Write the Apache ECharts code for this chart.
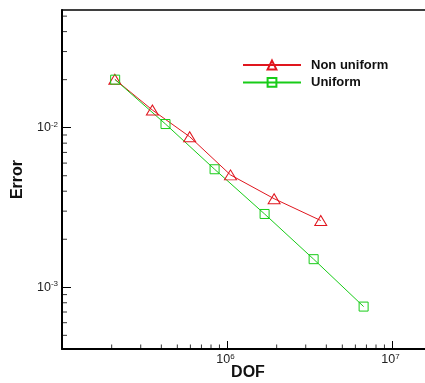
<!DOCTYPE html>
<html>
<head>
<meta charset="utf-8">
<script src="https://cdn.jsdelivr.net/npm/echarts@6/dist/echarts.min.js"></script>
<style>
html,body{margin:0;padding:0;background:#fff;}
#chart{width:425px;height:383px;}
</style>
</head>
<body>
<div id="chart"></div>
<script>
// ---- data ----
const seriesNames = ['Non uniform', 'Uniform'];
const dofNonUniform = [2.09e5, 3.53e5, 5.94e5, 1.05e6, 1.93e6, 3.70e6];
const errNonUniform = [0.0201, 0.0129, 0.00878, 0.00506, 0.00359, 0.00262];
const dofUniform = [2.1e5, 4.24e5, 8.41e5, 1.69e6, 3.35e6, 6.73e6];
const errUniform = [0.0200, 0.01054, 0.00549, 0.00288, 0.00150, 0.000757];

// axis ranges and tick values
const xMin = 1e5, xMax = 1.585e7;
const yMin = 4.105e-4, yMax = 0.05463;
const xMinorTicks = [2e5,3e5,4e5,5e5,6e5,7e5,8e5,9e5,2e6,3e6,4e6,5e6,6e6,7e6,8e6,9e6];
const yMinorTicks = [5e-4,6e-4,7e-4,8e-4,9e-4,2e-3,3e-3,4e-3,5e-3,6e-3,7e-3,8e-3,9e-3,2e-2,3e-2,4e-2,5e-2];

const RED = '#e0161e';
const GREEN = '#18cc18';
const FONT = 'Liberation Sans, Arial, sans-serif';

function pair(xs, ys){ return xs.map((x,i)=>[x, ys[i]]); }
function powLabel(v){
  const e = Math.round(Math.log10(v));
  return '{b|10}{s|' + e + '}';
}
const rich = {
  b:{fontSize:12.5, fontFamily:FONT, color:'#222', lineHeight:14},
  s:{fontSize:8, fontFamily:FONT, color:'#222', verticalAlign:'top', lineHeight:9}
};

const chart = echarts.init(document.getElementById('chart'), null, {renderer:'canvas'});
chart.setOption({
  animation:false,
  backgroundColor:'#fff',
  grid:{left:62, right:0, top:10, bottom:34, containLabel:false, outerBoundsMode:'none'},
  legend:{
    data:seriesNames,
    orient:'vertical',
    left:242, top:58.5, padding:0,
    itemWidth:58, itemHeight:11, itemGap:4.4,
    textStyle:{fontFamily:FONT, fontSize:13, fontWeight:'bold', color:'#111', lineHeight:11, padding:[0,0,0,5]}
  },
  xAxis:[{
    type:'log', min:xMin, max:xMax, logBase:10,
    name:'DOF', nameLocation:'middle', nameGap:15.5, nameMoveOverlap:false,
    nameTextStyle:{fontFamily:FONT, fontSize:16, fontWeight:'bold', color:'#111', padding:[0,0,0,9]},
    axisLine:{show:true, lineStyle:{color:'#000', width:2}},
    axisTick:{show:true, inside:true, length:8, lineStyle:{color:'#000', width:1}},
    axisLabel:{formatter:powLabel, rich:rich, margin:4, showMinLabel:false, showMaxLabel:false, padding:[0,3,0,0]},
    splitLine:{show:false}, minorTick:{show:false}
  },{
    type:'log', min:xMin, max:xMax, position:'top',
    axisLine:{show:true, lineStyle:{color:'#000', width:1.5}},
    axisTick:{show:false}, axisLabel:{show:false}, splitLine:{show:false}
  }],
  yAxis:{
    type:'log', min:yMin, max:yMax, logBase:10,
    name:'Error', nameLocation:'middle', nameGap:36.5, nameMoveOverlap:false,
    nameTextStyle:{fontFamily:FONT, fontSize:16, fontWeight:'bold', color:'#111'},
    axisLine:{show:true, lineStyle:{color:'#000', width:2}},
    axisTick:{show:true, inside:true, length:9, lineStyle:{color:'#000', width:1}},
    axisLabel:{formatter:powLabel, rich:rich, margin:4, showMinLabel:false, showMaxLabel:false},
    splitLine:{show:false}
  },
  series:[
    {
      name:seriesNames[0], type:'line', data:pair(dofNonUniform, errNonUniform),
      color:RED, symbol:'triangle', symbolSize:[12,10], showAllSymbol:true,
      lineStyle:{color:RED, width:1},
      itemStyle:{color:'transparent', borderColor:RED, borderWidth:1},
      z:3
    },
    {
      name:seriesNames[1], type:'line', data:pair(dofUniform, errUniform),
      color:GREEN, symbol:'rect', symbolSize:9, showAllSymbol:true,
      lineStyle:{color:GREEN, width:1},
      itemStyle:{color:'transparent', borderColor:GREEN, borderWidth:1},
      z:3
    },
    {
      name:'xminor', type:'scatter', silent:true, clip:false,
      data:xMinorTicks.map(v=>[v, yMin]),
      symbol:'rect', symbolSize:[1,4.5], symbolOffset:[0,-2.25],
      itemStyle:{color:'#000'}, z:1
    },
    {
      name:'yminor', type:'scatter', silent:true, clip:false,
      data:yMinorTicks.map(v=>[xMin, v]),
      symbol:'rect', symbolSize:[5,1], symbolOffset:[2.5,0],
      itemStyle:{color:'#000'}, z:1
    }
  ]
});
</script>
</body>
</html>
